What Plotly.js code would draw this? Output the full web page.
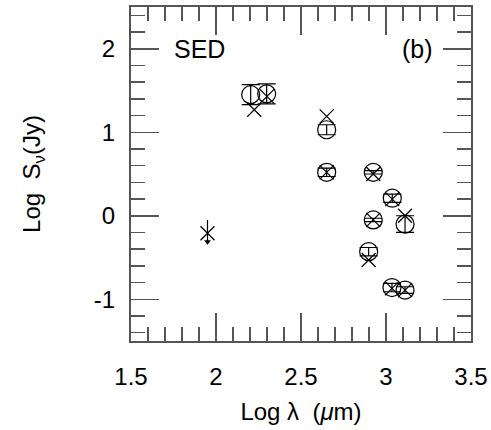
<!DOCTYPE html>
<html>
<head>
<meta charset="utf-8">
<script src="https://cdn.plot.ly/plotly-3.0.1.min.js"></script>
<style>
  html, body { margin: 0; padding: 0; background: #fff; }
  #chart { width: 491px; height: 430px; }
</style>
</head>
<body>
<div id="chart"></div>
<script>
// Observed fluxes (open circles with vertical error bars)
const obsLogLambda = [2.204, 2.298, 2.651, 2.651, 2.925, 3.037, 2.925, 3.112, 2.898, 3.035, 3.112];
const obsLogFlux   = [1.45, 1.46, 1.03, 0.52, 0.52, 0.21, -0.05, -0.10, -0.43, -0.86, -0.89];
const obsErr       = [0.12, 0.12, 0.06, 0.05, 0.02, 0.05, 0.02, 0.10, 0.05, 0.05, 0.04];

// Model fluxes (crosses)
const modLogLambda = [2.225, 2.300, 2.651, 2.651, 2.925, 3.037, 2.925, 3.112, 2.898, 3.035, 3.112, 1.950];
const modLogFlux   = [1.27, 1.43, 1.19, 0.52, 0.50, 0.20, -0.05, 0.00, -0.53, -0.87, -0.89, -0.21];

// Upper limit
const limLogLambda = [1.950];
const limLogFlux   = [-0.31];
const limLength    = [0.26];

const xTickVals = [1.5, 2, 2.5, 3, 3.5];
const xTickText = ['1.5', '2', '2.5', '3', '3.5'];
const yTickVals = [-1, 0, 1, 2];
const yTickText = ['-1', '0', '1', '2'];

const ink = '#000';
const frame = '#555';
const font = 'Liberation Sans, Arial, Helvetica, sans-serif';

const traces = [
  {
    x: obsLogLambda, y: obsLogFlux, type: 'scatter', mode: 'markers',
    marker: { symbol: 'circle-open', size: 18, color: ink, line: { width: 1.2, color: ink } },
    error_y: { type: 'data', array: obsErr, visible: true, color: ink, thickness: 1.2, width: 9 },
    hoverinfo: 'x+y'
  },
  {
    x: modLogLambda, y: modLogFlux, type: 'scatter', mode: 'markers',
    marker: { symbol: 'x-thin-open', size: 14, color: ink, line: { width: 1.2, color: ink } },
    hoverinfo: 'x+y'
  },
  {
    x: limLogLambda, y: limLogFlux, type: 'scatter', mode: 'markers',
    marker: { symbol: 'triangle-down', size: 6, color: ink },
    error_y: { type: 'data', symmetric: false, array: limLength, arrayminus: [0], visible: true, color: ink, thickness: 1.2, width: 0 },
    hoverinfo: 'x+y'
  }
];

const axisCommon = {
  showgrid: false, zeroline: false, showline: true, linecolor: frame, linewidth: 2,
  mirror: 'allticks', ticks: 'inside', tickcolor: frame, tickwidth: 1.5, ticklen: 28,
  tickfont: { family: font, size: 24, color: ink }, fixedrange: true
};

const layout = {
  width: 491, height: 430,
  margin: { l: 131, r: 20, t: 7, b: 89 },
  paper_bgcolor: '#fff', plot_bgcolor: '#fff',
  showlegend: false,
  font: { family: font, color: ink },
  xaxis: Object.assign({}, axisCommon, {
    range: [1.5, 3.5], tickmode: 'array', tickvals: xTickVals, ticktext: xTickText,
    ticklabelstandoff: 13,
    minor: { dtick: 0.1, tick0: 1.5, ticks: 'inside', ticklen: 14, tickcolor: frame, tickwidth: 1.5 },
    title: { text: 'Log λ  (<i>μ</i>m)', font: { family: font, size: 24, color: ink }, standoff: 14 }
  }),
  yaxis: Object.assign({}, axisCommon, {
    range: [-1.5, 2.5], tickmode: 'array', tickvals: yTickVals, ticktext: yTickText,
    ticklabelstandoff: 9,
    minor: { dtick: 0.2, tick0: 0, ticks: 'inside', ticklen: 14, tickcolor: frame, tickwidth: 1.5 },
    title: { text: 'Log  S<sub>ν</sub>(Jy)', font: { family: font, size: 24, color: ink }, standoff: 46 }
  }),
  annotations: [
    { xref: 'paper', yref: 'paper', x: 0.12, y: 0.875, xanchor: 'left', yanchor: 'middle',
      text: 'SED', showarrow: false, font: { family: font, size: 25, color: ink } },
    { xref: 'paper', yref: 'paper', x: 0.895, y: 0.875, xanchor: 'right', yanchor: 'middle',
      text: '(b)', showarrow: false, font: { family: font, size: 25, color: ink } }
  ]
};

Plotly.newPlot('chart', traces, layout, { displayModeBar: false, staticPlot: true });
</script>
</body>
</html>
